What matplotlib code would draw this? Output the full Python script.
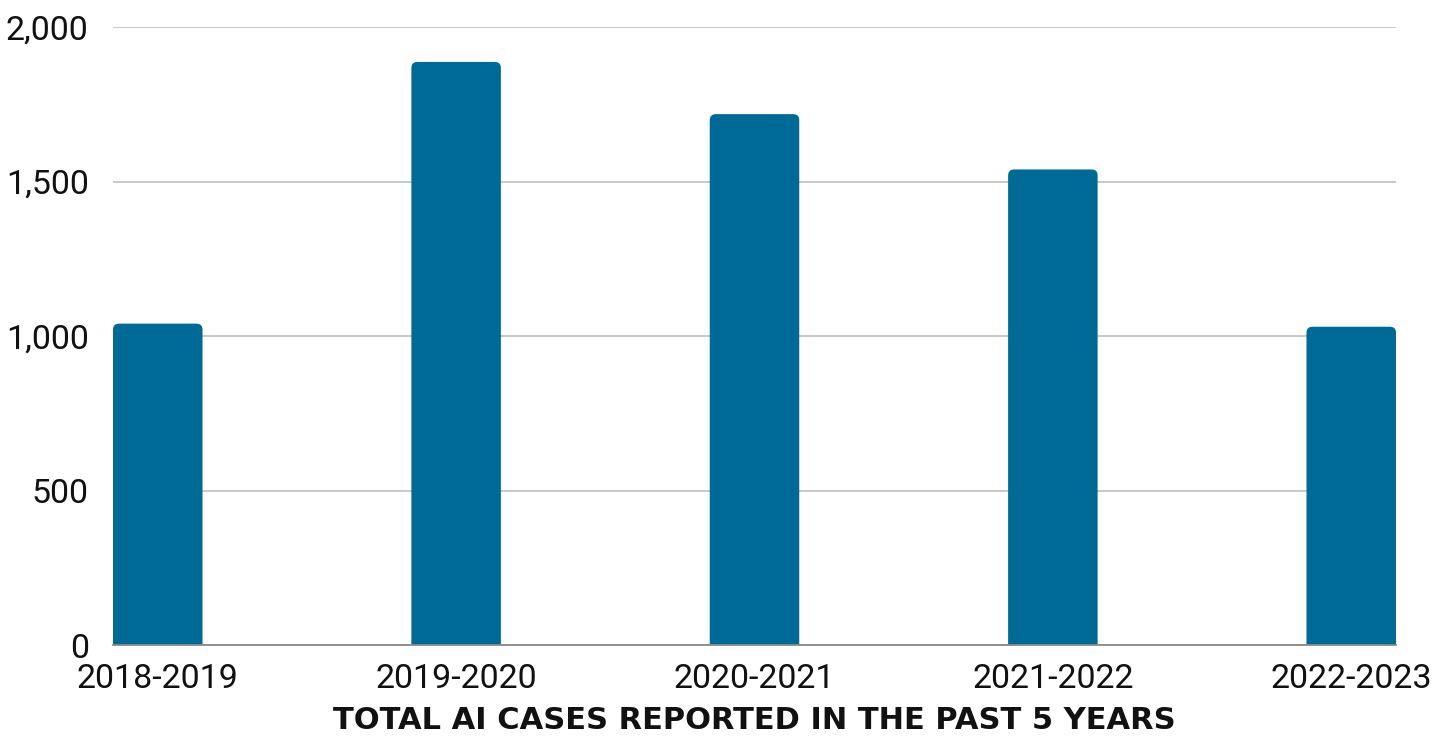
import matplotlib
matplotlib.use("Agg")
import matplotlib.pyplot as plt
from matplotlib.ticker import FuncFormatter
from matplotlib.patches import FancyBboxPatch

categories = ["2018-2019", "2019-2020", "2020-2021", "2021-2022", "2022-2023"]
values = [1040, 1887, 1718, 1539, 1030]
yticks = [0, 500, 1000, 1500, 2000]

plt.rcParams['font.family'] = ['Roboto', 'DejaVu Sans']

W, H = 1447, 738
fig = plt.figure(figsize=(W/100, H/100), dpi=100)
ax = fig.add_axes([113/W, 1-645/H, (1396-113)/W, (645-27)/H])

x = list(range(len(categories)))
bars = ax.bar(x, values, width=0.3, color="#006a96", zorder=3)
ax.set_xlim(-0.15, len(categories)-1+0.15)
ax.set_ylim(0, 2000)

# rounded top corners (radius ~6 px), bottom hidden below the axis
fig.canvas.draw()
p0 = ax.transData.transform((0, 0))
p1 = ax.transData.transform((1, 1))
px_per_x = p1[0] - p0[0]
px_per_y = p1[1] - p0[1]
r_px = 6
for b in bars:
    b.set_visible(False)
    ext = 30 / px_per_y
    fb = FancyBboxPatch((b.get_x(), -ext), b.get_width(), b.get_height() + ext,
                        boxstyle=f"round,pad=0,rounding_size={r_px/px_per_x}",
                        mutation_aspect=px_per_x/px_per_y,
                        facecolor="#006a96", edgecolor="none", zorder=3,
                        clip_on=True)
    ax.add_patch(fb)

ax.set_yticks(yticks)
ax.yaxis.set_major_formatter(FuncFormatter(lambda v, p: f"{int(v):,}"))
ax.set_xticks(x)
ax.set_xticklabels(categories)
ax.grid(axis='y', color="#c4c4c4", linewidth=1.3, zorder=0)
for s in ['top', 'right', 'left']:
    ax.spines[s].set_visible(False)
ax.spines['bottom'].set_color("#8a8a8a")
ax.spines['bottom'].set_linewidth(1.3)
ax.spines['bottom'].set_zorder(4)
ax.tick_params(axis='both', length=0, labelsize=24.5, colors="#111111")
ax.tick_params(axis='y', pad=17.5)
ax.tick_params(axis='x', pad=13)
ax.set_xlabel("TOTAL AI CASES REPORTED IN THE PAST 5 YEARS", fontsize=22,
              fontweight='bold', color="#111111", labelpad=8,
              family=['DejaVu Sans'])

fig.savefig("out.png", dpi=100)
